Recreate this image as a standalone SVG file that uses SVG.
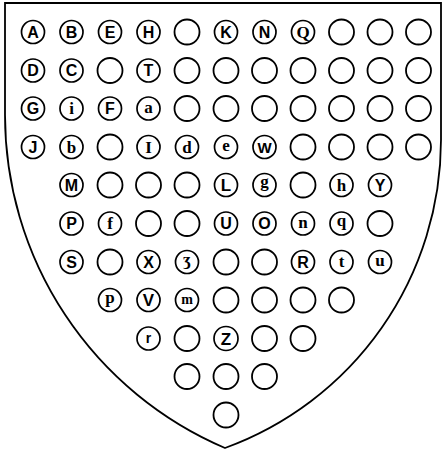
<svg xmlns="http://www.w3.org/2000/svg" width="445" height="450" viewBox="0 0 445 450">
<style>
.bg{fill:#fff}
.shield{fill:#fff;stroke:#000;stroke-width:1.8;stroke-linejoin:miter}
circle{fill:#fff;stroke:#000}
.l circle{stroke-width:1.7}
.o circle{stroke-width:1.8}
text{text-anchor:middle;fill:#000}
.s{font-family:"Liberation Sans",Arial,sans-serif;font-weight:bold;font-size:16px}
.r{font-family:"Liberation Serif","DejaVu Serif",serif;font-weight:bold;font-size:17px}
</style>
<rect class="bg" width="445" height="450"/>
<path id="shield" class="shield" d="M5,3 H441 V140 A328,328 0 0 1 225,448 A362,362 0 0 1 5,115 Z"/>
<g id="connectors"></g>
<g id="row1">
<g id="A" class="l" transform="translate(33,32)"><circle r="11.5"/><text class="s" y="5.7">A</text></g>
<g id="B" class="l" transform="translate(71.5,32)"><circle r="11.5"/><text class="s" y="5.7">B</text></g>
<g id="E" class="l" transform="translate(110,32)"><circle r="11.5"/><text class="s" y="5.7">E</text></g>
<g id="H" class="l" transform="translate(148.5,32)"><circle r="11.5"/><text class="s" y="5.7">H</text></g>
<g id="o1-4" class="o" transform="translate(187,32)"><circle r="12.5"/></g>
<g id="K" class="l" transform="translate(226,32)"><circle r="11.5"/><text class="s" y="5.7">K</text></g>
<g id="N" class="l" transform="translate(264.5,32)"><circle r="11.5"/><text class="s" y="5.7">N</text></g>
<g id="Q" class="l" transform="translate(303,32)"><circle r="11.5"/><text class="r" y="5.8">Q</text></g>
<g id="o1-8" class="o" transform="translate(341.5,32)"><circle r="12.5"/></g>
<g id="o1-9" class="o" transform="translate(380,32)"><circle r="12.5"/></g>
<g id="o1-10" class="o" transform="translate(418.5,32)"><circle r="12.5"/></g>
</g>
<g id="row2">
<g id="D" class="l" transform="translate(33,70.5)"><circle r="11.5"/><text class="s" y="5.7">D</text></g>
<g id="C" class="l" transform="translate(71.5,70.5)"><circle r="11.5"/><text class="s" y="5.7">C</text></g>
<g id="o2-2" class="o" transform="translate(110,70.5)"><circle r="12.5"/></g>
<g id="T" class="l" transform="translate(148.5,70.5)"><circle r="11.5"/><text class="s" y="5.7">T</text></g>
<g id="o2-4" class="o" transform="translate(187,70.5)"><circle r="12.5"/></g>
<g id="o2-5" class="o" transform="translate(226,70.5)"><circle r="12.5"/></g>
<g id="o2-6" class="o" transform="translate(264.5,70.5)"><circle r="12.5"/></g>
<g id="o2-7" class="o" transform="translate(303,70.5)"><circle r="12.5"/></g>
<g id="o2-8" class="o" transform="translate(341.5,70.5)"><circle r="12.5"/></g>
<g id="o2-9" class="o" transform="translate(380,70.5)"><circle r="12.5"/></g>
<g id="o2-10" class="o" transform="translate(418.5,70.5)"><circle r="12.5"/></g>
</g>
<g id="row3">
<g id="G" class="l" transform="translate(33,108.5)"><circle r="11.5"/><text class="s" y="5.7">G</text></g>
<g id="i" class="l" transform="translate(71.5,108.5)"><circle r="11.5"/><text class="r" y="5.8">i</text></g>
<g id="F" class="l" transform="translate(110,108.5)"><circle r="11.5"/><text class="s" y="5.7">F</text></g>
<g id="a" class="l" transform="translate(148.5,108.5)"><circle r="11.5"/><text class="r" y="4">a</text></g>
<g id="o3-4" class="o" transform="translate(187,108.5)"><circle r="12.5"/></g>
<g id="o3-5" class="o" transform="translate(226,108.5)"><circle r="12.5"/></g>
<g id="o3-6" class="o" transform="translate(264.5,108.5)"><circle r="12.5"/></g>
<g id="o3-7" class="o" transform="translate(303,108.5)"><circle r="12.5"/></g>
<g id="o3-8" class="o" transform="translate(341.5,108.5)"><circle r="12.5"/></g>
<g id="o3-9" class="o" transform="translate(380,108.5)"><circle r="12.5"/></g>
<g id="o3-10" class="o" transform="translate(418.5,108.5)"><circle r="12.5"/></g>
</g>
<g id="row4">
<g id="J" class="l" transform="translate(33,147)"><circle r="11.5"/><text class="s" y="5.7">J</text></g>
<g id="b" class="l" transform="translate(71.5,147)"><circle r="11.5"/><text class="r" y="5.8">b</text></g>
<g id="o4-2" class="o" transform="translate(110,147)"><circle r="12.5"/></g>
<g id="I" class="l" transform="translate(148.5,147)"><circle r="11.5"/><text class="r" y="5.8">I</text></g>
<g id="d" class="l" transform="translate(187,147)"><circle r="11.5"/><text class="r" y="5.8">d</text></g>
<g id="e" class="l" transform="translate(226,147)"><circle r="11.5"/><text class="r" y="4">e</text></g>
<g id="W" class="l" transform="translate(264.5,147)"><circle r="11.5"/><text class="s" y="5.7" style="font-size:15px">W</text></g>
<g id="o4-7" class="o" transform="translate(303,147)"><circle r="12.5"/></g>
<g id="o4-8" class="o" transform="translate(341.5,147)"><circle r="12.5"/></g>
<g id="o4-9" class="o" transform="translate(380,147)"><circle r="12.5"/></g>
<g id="o4-10" class="o" transform="translate(418.5,147)"><circle r="12.5"/></g>
</g>
<g id="row5">
<g id="M" class="l" transform="translate(71.5,185)"><circle r="11.5"/><text class="s" y="5.7">M</text></g>
<g id="o5-2" class="o" transform="translate(110,185)"><circle r="12.5"/></g>
<g id="o5-3" class="o" transform="translate(148.5,185)"><circle r="12.5"/></g>
<g id="o5-4" class="o" transform="translate(187,185)"><circle r="12.5"/></g>
<g id="L" class="l" transform="translate(226,185)"><circle r="11.5"/><text class="s" y="6.2" style="font-size:17px">L</text></g>
<g id="g" class="l" transform="translate(264.5,185)"><circle r="11.5"/><text class="r" y="2">g</text></g>
<g id="o5-7" class="o" transform="translate(303,185)"><circle r="12.5"/></g>
<g id="h" class="l" transform="translate(341.5,185)"><circle r="11.5"/><text class="r" y="5.8">h</text></g>
<g id="Y" class="l" transform="translate(380,185)"><circle r="11.5"/><text class="s" y="5.7">Y</text></g>
</g>
<g id="row6">
<g id="P" class="l" transform="translate(71.5,223.5)"><circle r="11.5"/><text class="s" y="5.7">P</text></g>
<g id="f" class="l" transform="translate(110,223.5)"><circle r="11.5"/><text class="r" y="5.8">f</text></g>
<g id="o6-3" class="o" transform="translate(148.5,223.5)"><circle r="12.5"/></g>
<g id="o6-4" class="o" transform="translate(187,223.5)"><circle r="12.5"/></g>
<g id="U" class="l" transform="translate(226,223.5)"><circle r="11.5"/><text class="s" y="5.7">U</text></g>
<g id="O" class="l" transform="translate(264.5,223.5)"><circle r="11.5"/><text class="s" y="5.7">O</text></g>
<g id="n" class="l" transform="translate(303,223.5)"><circle r="11.5"/><text class="r" y="4">n</text></g>
<g id="q" class="l" transform="translate(341.5,223.5)"><circle r="11.5"/><text class="r" y="2.5">q</text></g>
<g id="o6-9" class="o" transform="translate(380,223.5)"><circle r="12.5"/></g>
</g>
<g id="row7">
<g id="S" class="l" transform="translate(71.5,262)"><circle r="11.5"/><text class="s" y="5.7">S</text></g>
<g id="o7-2" class="o" transform="translate(110,262)"><circle r="12.5"/></g>
<g id="X" class="l" transform="translate(148.5,262)"><circle r="11.5"/><text class="s" y="5.7">X</text></g>
<g id="z3" class="l" transform="translate(187,262)"><circle r="11.5"/><text class="r" y="3">ʒ</text></g>
<g id="o7-5" class="o" transform="translate(226,262)"><circle r="12.5"/></g>
<g id="o7-6" class="o" transform="translate(264.5,262)"><circle r="12.5"/></g>
<g id="R" class="l" transform="translate(303,262)"><circle r="11.5"/><text class="s" y="5.7">R</text></g>
<g id="t" class="l" transform="translate(341.5,262)"><circle r="11.5"/><text class="r" y="5.3">t</text></g>
<g id="u" class="l" transform="translate(380,262)"><circle r="11.5"/><text class="r" y="4">u</text></g>
</g>
<g id="row8">
<g id="p" class="l" transform="translate(110,300)"><circle r="11.5"/><text class="r" y="2.5">p</text></g>
<g id="V" class="l" transform="translate(148.5,300)"><circle r="11.5"/><text class="s" y="6" style="font-size:17px">V</text></g>
<g id="m" class="l" transform="translate(187,300)"><circle r="11.5"/><text class="r" y="4" style="font-size:14px">m</text></g>
<g id="o8-5" class="o" transform="translate(226,300)"><circle r="12.5"/></g>
<g id="o8-6" class="o" transform="translate(264.5,300)"><circle r="12.5"/></g>
<g id="o8-7" class="o" transform="translate(303,300)"><circle r="12.5"/></g>
<g id="o8-8" class="o" transform="translate(341.5,300)"><circle r="12.5"/></g>
</g>
<g id="row9">
<g id="r" class="l" transform="translate(148.5,338.5)"><circle r="11.5"/><text class="s" y="4.2" style="font-size:14px">r</text></g>
<g id="o9-4" class="o" transform="translate(187,338.5)"><circle r="12.5"/></g>
<g id="Z" class="l" transform="translate(226,338.5)"><circle r="12"/><text class="s" y="6.2" style="font-size:17px">Z</text></g>
<g id="o9-6" class="o" transform="translate(264.5,338.5)"><circle r="12.5"/></g>
<g id="o9-7" class="o" transform="translate(303,338.5)"><circle r="12.5"/></g>
</g>
<g id="row10">
<g id="o10-4" class="o" transform="translate(187,376.5)"><circle r="12.5"/></g>
<g id="o10-5" class="o" transform="translate(226,376.5)"><circle r="12.5"/></g>
<g id="o10-6" class="o" transform="translate(264.5,376.5)"><circle r="12.5"/></g>
</g>
<g id="row11">
<g id="o11-5" class="o" transform="translate(226,415)"><circle r="12.5"/></g>
</g>
</svg>
